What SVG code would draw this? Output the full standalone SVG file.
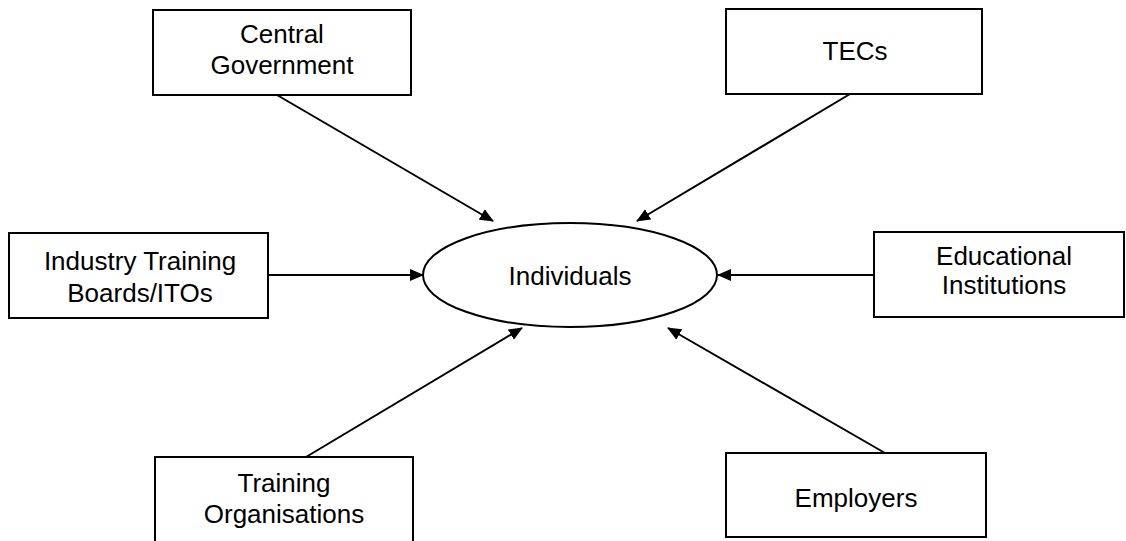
<svg xmlns="http://www.w3.org/2000/svg" width="1126" height="541" viewBox="0 0 1126 541">
<style>
.box{fill:#fff;stroke:#000;stroke-width:2}
.t{font-family:"Liberation Sans",Arial,sans-serif;font-size:26px;fill:#000;text-anchor:middle}
.c{stroke:#000;stroke-width:2;fill:none;marker-end:url(#ah)}
</style>
<defs>
<marker id="ah" markerWidth="14" markerHeight="12" refX="13" refY="6" orient="auto" markerUnits="userSpaceOnUse">
<path d="M0,0 L14,6 L0,12 Z" fill="#000"/>
</marker>
</defs>
<rect width="1126" height="541" fill="#fff"/>
<g id="connectors">
<line class="c" x1="277" y1="95" x2="493" y2="221"/>
<line class="c" x1="850" y1="94" x2="637" y2="221"/>
<line class="c" x1="268" y1="275" x2="423" y2="275"/>
<line class="c" x1="874" y1="275" x2="718" y2="275"/>
<line class="c" x1="306" y1="457" x2="522" y2="328"/>
<line class="c" x1="885" y1="453" x2="668" y2="328"/>
</g>
<g id="individuals">
<ellipse cx="570" cy="275" rx="147" ry="52" fill="#fff" stroke="#000" stroke-width="2"/>
<text class="t" x="570" y="285">Individuals</text>
</g>
<g id="central-government">
<rect class="box" x="153" y="10" width="258" height="85"/>
<text class="t" x="282" y="43">Central</text>
<text class="t" x="282" y="74">Government</text>
</g>
<g id="tecs">
<rect class="box" x="726" y="9" width="256" height="85"/>
<text class="t" x="855" y="60">TECs</text>
</g>
<g id="industry-training">
<rect class="box" x="9" y="233" width="259" height="85"/>
<text class="t" x="140" y="270">Industry Training</text>
<text class="t" x="140" y="302">Boards/ITOs</text>
</g>
<g id="educational">
<rect class="box" x="874" y="232" width="250" height="85"/>
<text class="t" x="1004" y="265">Educational</text>
<text class="t" x="1004" y="294">Institutions</text>
</g>
<g id="training-organisations">
<rect class="box" x="155" y="457" width="258" height="95"/>
<text class="t" x="284" y="492">Training</text>
<text class="t" x="284" y="523">Organisations</text>
</g>
<g id="employers">
<rect class="box" x="726" y="453" width="260" height="84"/>
<text class="t" x="856" y="507">Employers</text>
</g>
</svg>
